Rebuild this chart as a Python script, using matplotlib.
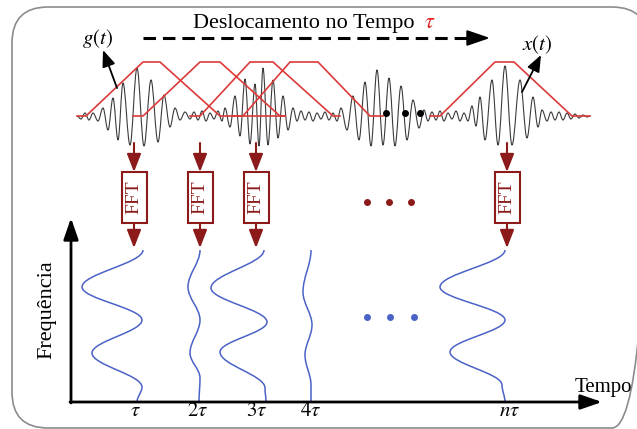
import matplotlib
matplotlib.use('Agg')
import matplotlib.pyplot as plt
from matplotlib.path import Path
from matplotlib.patches import PathPatch, FancyBboxPatch, Rectangle

plt.rcParams['font.family'] = ['Liberation Serif', 'DejaVu Serif']
plt.rcParams['mathtext.fontset'] = 'stix'
plt.rcParams['lines.scale_dashes'] = False

# signal x(t): successive extrema (pixel coords, baseline ~116)
sig_x = [77, 81, 85, 89, 93, 98,
         103, 108, 113, 118, 123, 130, 137, 144, 151, 158, 164, 170, 175, 180, 185,
         190, 194, 198, 202, 206, 210, 214, 218, 222,
         225, 230, 235, 240, 245, 250, 255, 259, 263, 268, 273, 278, 283, 288, 293, 297,
         301, 305, 309, 313, 317, 321, 325, 329, 333, 337,
         341, 347, 353, 359, 365, 371, 377, 383, 389, 395, 401, 407, 413, 419, 424, 428,
         432, 436, 440, 444, 448, 452, 456, 460, 464, 468,
         472, 476, 480, 485, 492, 498, 505, 512, 520, 527, 533, 538, 542, 547,
         551, 555, 559, 563, 567, 571, 575, 579, 583, 587, 590]
sig_y = [116, 119, 113, 120, 113, 121,
         108, 130, 98, 140, 83, 145, 68, 146, 80, 142, 95, 127, 108, 120, 112,
         119, 112, 120, 111, 121, 113, 119, 111, 121,
         108, 127, 96, 136, 79, 144, 84, 146, 68, 145, 80, 138, 96, 130, 108, 121,
         111, 120, 112, 121, 113, 119, 112, 120, 113, 121,
         108, 130, 96, 140, 82, 146, 70, 145, 78, 146, 86, 140, 100, 128, 110, 121,
         112, 120, 111, 121, 113, 119, 111, 121, 113, 121,
         106, 126, 97, 140, 80, 145, 66, 145, 80, 138, 97, 127, 110, 121,
         112, 120, 112, 120, 113, 119, 114, 118, 115, 117, 116]

# sliding windows g(t - k*tau): corner points
windows_x = [[77, 86, 143, 160, 220, 285],
             [133, 143, 200, 220, 280, 285],
             [190, 200, 250, 273, 333, 340],
             [233, 243, 290, 318, 370, 383],
             [430, 440, 495, 514, 572, 590]]
windows_y = [116, 116, 62, 62, 116, 116]

# FFT columns
fft_cols = [134, 200, 256, 507]

# spectra: successive extrema (x, y) of each curve
spec_x = [[143, 82, 142, 92, 142, 137],
          [200, 188, 200, 190, 200, 199],
          [264, 211, 267, 220, 265, 266],
          [311, 303, 312, 305, 311, 311],
          [505, 440, 505, 450, 502, 505]]
spec_y = [[250, 287, 320, 353, 387, 402],
          [250, 287, 320, 353, 378, 402],
          [250, 288, 322, 352, 388, 402],
          [250, 292, 325, 355, 385, 402],
          [250, 287, 320, 352, 385, 402]]

tick_x = [135, 198, 257, 311, 510]
tick_labels = [r'$\tau$', r'$2\tau$', r'$3\tau$', r'$4\tau$', r'$n\tau$']

RED = '#dc3a3a'
DRED = '#8c1a1a'
BLUE = '#4b62c6'


def smooth_path(xs, ys, horizontal=True, k=0.36):
    verts = [(xs[0], ys[0])]
    codes = [Path.MOVETO]
    for i in range(len(xs) - 1):
        x0, y0, x1, y1 = xs[i], ys[i], xs[i + 1], ys[i + 1]
        if horizontal:
            d = (x1 - x0) * k
            verts += [(x0 + d, y0), (x1 - d, y1), (x1, y1)]
        else:
            d = (y1 - y0) * k
            verts += [(x0, y0 + d), (x1, y1 - d), (x1, y1)]
        codes += [Path.CURVE4] * 3
    return Path(verts, codes)


fig = plt.figure(figsize=(6.37, 4.29), dpi=100)
ax = fig.add_axes([0, 0, 1, 1])
ax.set_xlim(0, 637)
ax.set_ylim(429, 0)
ax.axis('off')

# frame
ax.add_patch(FancyBboxPatch((12, 7), 636, 421, boxstyle='round,pad=0,rounding_size=36',
                            fc='none', ec='#8c8c8c', lw=1.2))

# title + dashed shift arrow
ax.text(193, 28, 'Deslocamento no Tempo', fontsize=16, va='baseline')
ax.text(424, 28, r'$\tau$', fontsize=16, va='baseline', color='#e02020')
ax.plot([143, 472], [38, 38], color='k', lw=2.2, dashes=(9, 5), solid_capstyle='butt')
ax.annotate('', xy=(490, 38), xytext=(470, 38),
            arrowprops=dict(arrowstyle='-|>,head_length=1.4,head_width=0.48', mutation_scale=10,
                            fc='k', ec='k', lw=1.5, shrinkA=0, shrinkB=0))

# signal and windows
ax.add_patch(PathPatch(smooth_path(sig_x, sig_y), fc='none', ec='#3c3c3c', lw=0.8))
for wx in windows_x:
    ax.plot(wx, windows_y, color=RED, lw=1.2)
ax.plot([386, 405, 420], [113, 113, 113], 'o', color='k', ms=4)

# labels g(t), x(t)
ax.text(98, 38, r'$g(t)$', fontsize=15, ha='center', va='center')
ax.annotate('', xy=(103, 50), xytext=(117, 88),
            arrowprops=dict(arrowstyle='-|>,head_length=1.0,head_width=0.4', mutation_scale=10,
                            fc='k', ec='k', lw=1.3, shrinkA=0, shrinkB=0))
ax.text(537, 45, r'$x(t)$', fontsize=15, ha='center', va='center')
ax.annotate('', xy=(541, 55), xytext=(522, 92),
            arrowprops=dict(arrowstyle='-|>,head_length=1.0,head_width=0.4', mutation_scale=10,
                            fc='k', ec='k', lw=1.3, shrinkA=0, shrinkB=0))

# FFT blocks
arrow_props = dict(arrowstyle='-|>,head_length=1.1,head_width=0.43', mutation_scale=10,
                   fc=DRED, ec=DRED, lw=1.5, shrinkA=0, shrinkB=0)
for c in fft_cols:
    ax.annotate('', xy=(c, 172), xytext=(c, 143), arrowprops=arrow_props)
    ax.add_patch(Rectangle((c - 12.5, 172), 25, 51, fc='white', ec=DRED, lw=1.5))
    ax.text(c, 197.5, 'FFT', rotation=90, color=DRED, fontsize=14, ha='center', va='center')
    ax.annotate('', xy=(c, 248), xytext=(c, 223), arrowprops=arrow_props)
ax.plot([367, 389, 411], [202, 202, 202], 'o', color=DRED, ms=4)

# spectra
for sx, sy in zip(spec_x, spec_y):
    ax.add_patch(PathPatch(smooth_path(sx, sy, horizontal=False), fc='none', ec=BLUE, lw=1.1))
ax.plot([367, 390, 414], [317, 317, 317], 'o', color=BLUE, ms=4)

# time-frequency axes
axis_props = dict(arrowstyle='-|>,head_length=1.3,head_width=0.45', mutation_scale=10,
                  fc='k', ec='k', lw=2.0, shrinkA=0, shrinkB=0)
ax.annotate('', xy=(71, 218), xytext=(71, 403), arrowprops=axis_props)
ax.annotate('', xy=(602, 402), xytext=(70, 402), arrowprops=axis_props)
ax.text(47, 310, 'Frequência', rotation=90, fontsize=16, ha='center', va='center')
ax.text(603, 392, 'Tempo', fontsize=15, ha='center', va='baseline')
for x, lab in zip(tick_x, tick_labels):
    ax.text(x, 412, lab, fontsize=15, ha='center', va='center')

fig.savefig('out.png', dpi=100)
